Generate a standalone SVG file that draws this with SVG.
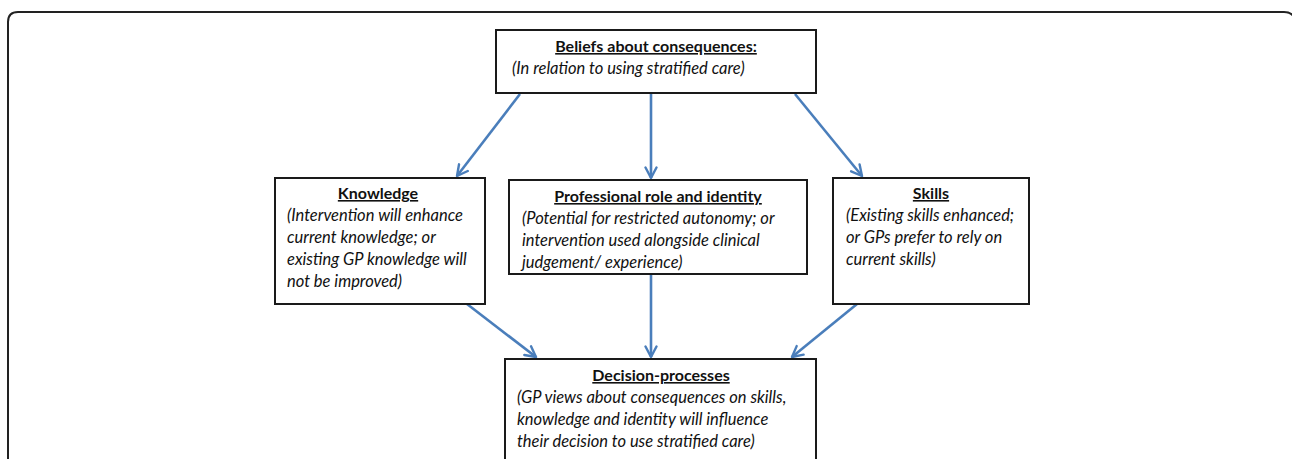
<svg xmlns="http://www.w3.org/2000/svg" width="1292" height="459" viewBox="0 0 1292 459">
  <defs>
    <marker id="arrow" viewBox="0 0 14 14" refX="12" refY="7" markerWidth="14" markerHeight="14" markerUnits="userSpaceOnUse" orient="auto">
      <path d="M1.5,1.5 L12,7 L1.5,12.5" fill="none" stroke="#4a7ebb" stroke-width="2.4" stroke-linecap="round" stroke-linejoin="round"/>
    </marker>
    <style>
      .box { fill: #ffffff; stroke: #1a1a1a; stroke-width: 2; }
      .title { font-family: Lato, "Liberation Sans", sans-serif; font-size: 16px; font-weight: bold; text-anchor: middle; text-decoration: underline; fill: #111; }
      .body { font-family: Lato, "Liberation Sans", sans-serif; font-size: 16.5px; font-style: italic; fill: #111; }
      .link { fill: none; stroke: #4a7ebb; stroke-width: 2.6; marker-end: url(#arrow); }
    </style>
  </defs>

  <rect width="1292" height="459" fill="#ffffff"/>
  <!-- outer frame -->
  <path d="M8,459 V22 Q8,12 18,12 H1284 Q1294,12 1296,22" fill="none" stroke="#222" stroke-width="2"/>

  <g id="connectors">
    <line class="link" x1="520" y1="94" x2="457" y2="176"/>
    <line class="link" x1="651" y1="94" x2="651" y2="178"/>
    <line class="link" x1="795" y1="94" x2="862" y2="176"/>
    <line class="link" x1="467" y1="304" x2="536" y2="357"/>
    <line class="link" x1="651" y1="275" x2="651" y2="357"/>
    <line class="link" x1="857" y1="304" x2="792" y2="357"/>
  </g>

  <g id="beliefs">
    <rect class="box" x="496" y="30" width="320" height="63"/>
    <text class="title" x="656" y="52">Beliefs about consequences:</text>
    <text class="body" x="512" y="74">(In relation to using stratified care)</text>
  </g>

  <g id="knowledge">
    <rect class="box" x="275" y="178" width="210" height="126"/>
    <text class="title" x="378" y="199">Knowledge</text>
    <text class="body" x="287" y="221">(Intervention will enhance</text>
    <text class="body" x="287" y="243">current knowledge; or</text>
    <text class="body" x="287" y="265">existing GP knowledge will</text>
    <text class="body" x="287" y="287">not be improved)</text>
  </g>

  <g id="professional-role">
    <rect class="box" x="509" y="180" width="298" height="94"/>
    <text class="title" x="658" y="202">Professional role and identity</text>
    <text class="body" x="522" y="224">(Potential for restricted autonomy; or</text>
    <text class="body" x="522" y="246">intervention used alongside clinical</text>
    <text class="body" x="522" y="268">judgement/ experience)</text>
  </g>

  <g id="skills">
    <rect class="box" x="833" y="178" width="196" height="126"/>
    <text class="title" x="931" y="199">Skills</text>
    <text class="body" x="846" y="221">(Existing skills enhanced;</text>
    <text class="body" x="846" y="243">or GPs prefer to rely on</text>
    <text class="body" x="846" y="265">current skills)</text>
  </g>

  <g id="decision-processes">
    <rect class="box" x="505" y="359" width="311" height="120"/>
    <text class="title" x="661" y="381">Decision-processes</text>
    <text class="body" x="517" y="403">(GP views about consequences on skills,</text>
    <text class="body" x="517" y="425">knowledge and identity will influence</text>
    <text class="body" x="517" y="447">their decision to use stratified care)</text>
  </g>
</svg>
